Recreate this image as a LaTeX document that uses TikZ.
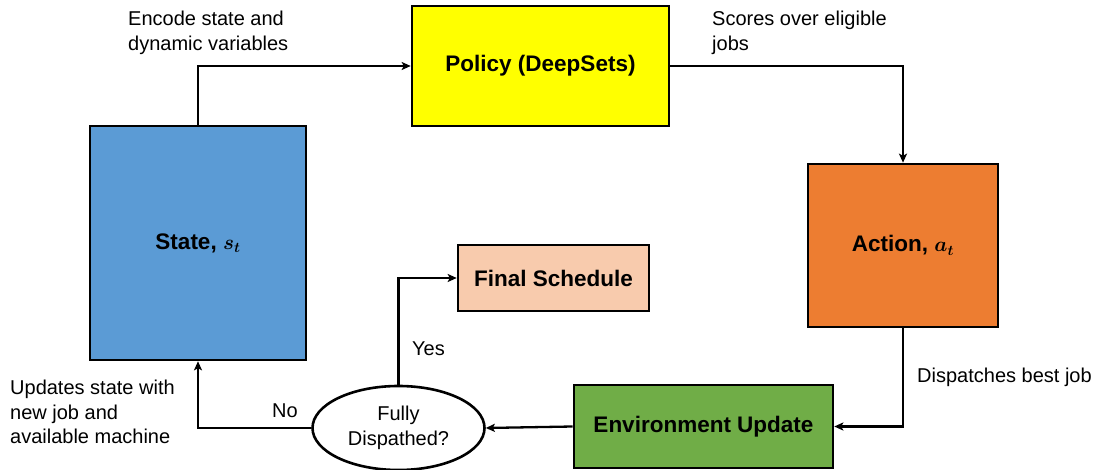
\documentclass[tikz,border=0pt]{standalone}
\usepackage{fontspec}
\setmainfont{Liberation Sans}
\usetikzlibrary{arrows.meta,shapes.geometric}
\definecolor{stateblue}{HTML}{5B9BD5}
\definecolor{policyyellow}{HTML}{FFFF00}
\definecolor{actionorange}{HTML}{ED7D31}
\definecolor{envgreen}{HTML}{70AD47}
\definecolor{finalpeach}{HTML}{F8CBAD}
\tikzset{
  blk/.style={draw,line width=2.6pt,inner sep=0pt,font=\fontsize{22.5}{26}\selectfont\bfseries\boldmath},
  lbl/.style={inner sep=0pt,align=left,font=\fontsize{20}{24.5}\selectfont},
  flow/.style={line width=2.3pt,-{Stealth[length=9pt,width=8pt,inset=2pt]}}
}
\begin{document}
\begin{tikzpicture}[x=1pt,y=-1pt]
\useasboundingbox (0,0) rectangle (1096,470);
% boxes
\node[blk,fill=stateblue,minimum width=216pt,minimum height=234pt](state) at (198,243){State, $s_t$};
\node[blk,fill=policyyellow,minimum width=257pt,minimum height=120pt](policy) at (540.5,66){Policy (DeepSets)};
\node[blk,fill=actionorange,minimum width=190pt,minimum height=163pt](action) at (903,245.5){Action, $a_t$};
\node[blk,fill=envgreen,minimum width=259pt,minimum height=83pt](env) at (703.5,426.5){Environment Update};
\node[blk,fill=finalpeach,minimum width=191pt,minimum height=66pt](final) at (553.5,278){Final Schedule};
\node[draw,ellipse,line width=2.6pt,fill=white,minimum width=172pt,minimum height=84pt,inner sep=0pt,lbl,align=center](fd) at (398.5,428){Fully\\Dispathed?};
% labels
\node[lbl,anchor=north west](encode) at (128,11){Encode state and\\dynamic variables};
\node[lbl,anchor=north west](scores) at (712,11){Scores over eligible\\jobs};
\node[lbl,anchor=north west](disp) at (917,368){Dispatches best job};
\node[lbl,anchor=north west](upd) at (10,380){Updates state with\\new job and\\available machine};
\node[lbl](no) at (285,411){No};
\node[lbl](yes) at (428.5,349){Yes};
% connectors
\draw[flow](state.north) |- (policy.west);
\draw[flow](policy.east) -| (action.north);
\draw[flow](action.south) |- (env.east);
\draw[flow](env.west) -- (fd.east);
\draw[flow](fd.west) -| (state.south);
\draw[flow](fd.north) |- (final.west);
\end{tikzpicture}
\end{document}
